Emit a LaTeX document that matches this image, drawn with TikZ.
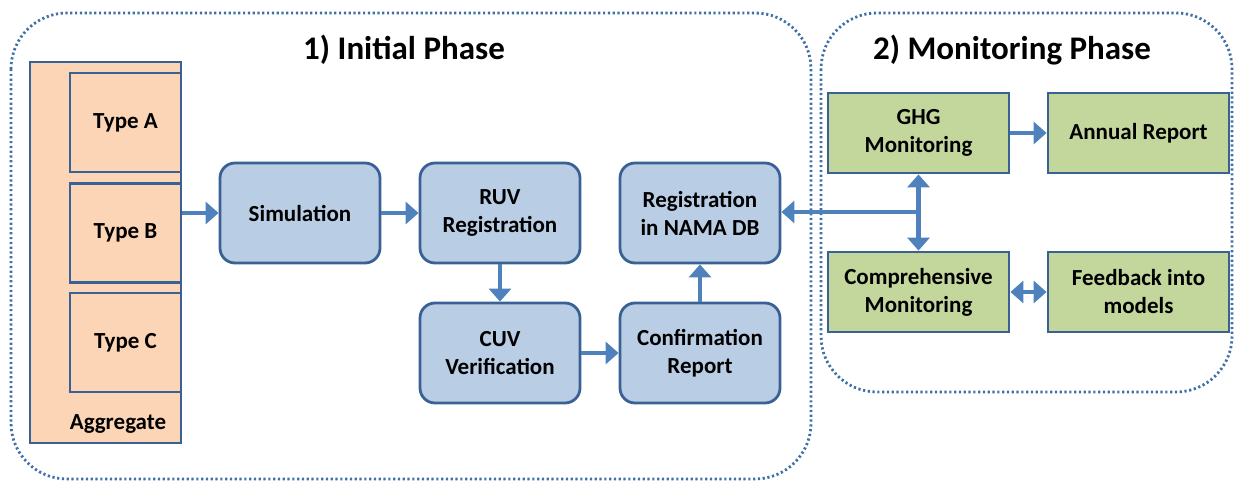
\documentclass[tikz,border=0pt]{standalone}
\usepackage{fontspec}
\setmainfont{Carlito}
\usetikzlibrary{arrows.meta}
\definecolor{edgeblue}{HTML}{3A6194}
\definecolor{arrowblue}{HTML}{4F81BD}
\definecolor{dotblue}{HTML}{3E6FA6}
\definecolor{bluefill}{HTML}{B9CDE5}
\definecolor{orangefill}{HTML}{FBD5B5}
\definecolor{greenfill}{HTML}{C3D69B}
\tikzset{
  phase/.style={draw=dotblue, line width=1.4pt, dash pattern=on 1.1pt off 1.3pt, rounded corners=28pt},
  phasetitle/.style={font=\bfseries\fontsize{16.5}{19}\selectfont},
  base/.style={draw=edgeblue, line width=1.4pt, align=center, inner sep=0pt,
    font=\bfseries\fontsize{11.5}{14}\selectfont},
  stepbox/.style={base, fill=bluefill, rounded corners=7.5pt, minimum width=80pt, minimum height=50pt},
  typebox/.style={base, fill=orangefill, minimum width=55.5pt, minimum height=49.5pt},
  monbox/.style={base, fill=greenfill, minimum width=90.5pt, minimum height=40pt},
  tip/.tip={Triangle[width=11pt,length=6.5pt]},
  arr/.style={draw=arrowblue, line width=2.4pt, -tip},
  arr2/.style={draw=arrowblue, line width=2.4pt, tip-tip},
}
\begin{document}
\begin{tikzpicture}[x=0.5pt, y=-0.5pt]
\useasboundingbox (0,0) rectangle (1234,481);

% phase frames
\draw[phase] (11,13) rectangle (811,479);
\draw[phase] (821,13) rectangle (1232,392);
\node[phasetitle] (t1) at (404,50) {1) Initial Phase};
\node[phasetitle] (t2) at (1012,50) {2) Monitoring Phase};

% aggregate column with its three types
\node[base, fill=orangefill, minimum width=75.5pt, minimum height=190.5pt] (agg) at (105.5,252.5) {};
\node[base, draw=none] (agglabel) at (118,424) {Aggregate};
\node[typebox] (ta) at (125.5,122.5) {Type A};
\node[typebox] (tb) at (125.5,233) {Type B};
\node[typebox] (tc) at (125.5,342.5) {Type C};

% initial phase steps
\node[stepbox] (sim) at (300,213) {Simulation};
\node[stepbox] (ruv) at (500,213) {RUV\\Registration};
\node[stepbox] (cuv) at (500,353) {CUV\\Verification};
\node[stepbox] (nama) at (700,213) {Registration\\in NAMA DB};
\node[stepbox] (conf) at (700,353) {Confirmation\\Report};

% monitoring phase steps
\node[monbox] (ghg) at (918.5,133) {GHG\\Monitoring};
\node[monbox] (annual) at (1138.5,133) {Annual Report};
\node[monbox] (comp) at (918.5,292) {Comprehensive\\Monitoring};
\node[monbox] (feed) at (1138.5,292) {Feedback into\\models};

% connectors
\coordinate (j) at (918.5,212);
\draw[arr] (agg.east |- sim.west) -- (sim.west);
\draw[arr] (sim.east) -- (ruv.west);
\draw[arr] (ruv.south) -- (cuv.north);
\draw[arr] (cuv.east) -- (conf.west);
\draw[arr] (conf.north) -- (nama.south);
\draw[arr] (j) -- (j -| nama.east);
\draw[arr] (j) -- (ghg.south);
\draw[arr] (j) -- (comp.north);
\draw[arr] (ghg.east) -- (annual.west);
\draw[arr2] (comp.east) -- (feed.west);
\end{tikzpicture}
\end{document}
